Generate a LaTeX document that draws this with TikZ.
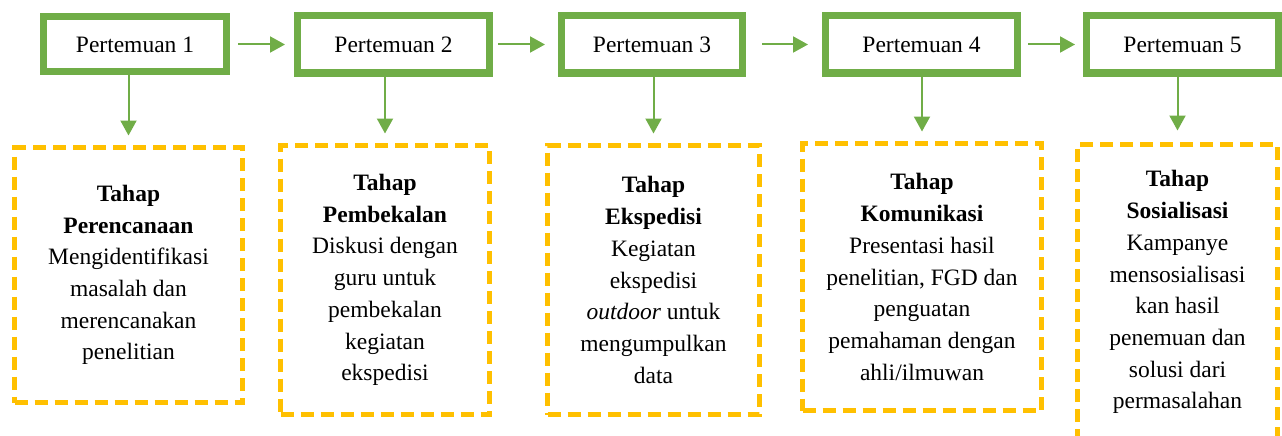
\documentclass[tikz,border=0pt]{standalone}
\usepackage{fontspec}
\setmainfont{Liberation Serif}
\usetikzlibrary{arrows.meta}
\definecolor{grn}{HTML}{70AD47}
\definecolor{org}{HTML}{FFC000}
\begin{document}
\begin{tikzpicture}[x=1pt,y=-1pt,
  meet/.style={draw=grn, line width=7pt, fill=white, minimum height=57pt, outer sep=0pt, inner sep=0pt, font=\fontsize{23.5}{31.7}\selectfont},
  stage/.style={draw=org, line width=5pt, dash pattern=on 13pt off 7pt, outer sep=0pt, inner sep=0pt, align=center, font=\fontsize{23.5}{31.7}\selectfont},
  flow/.style={draw=grn, line width=2pt, -{Triangle[width=16pt,length=15pt]}}]
\useasboundingbox (0,0) rectangle (1282,436);
\clip (0,0) rectangle (1282,436);

\node[meet, minimum width=183pt, minimum height=55pt] (b1) at (135,44.5) {Pertemuan 1};
\node[meet, minimum width=192pt] (b2) at (393.5,44.5) {Pertemuan 2};
\node[meet, minimum width=181pt] (b3) at (652,44.5) {Pertemuan 3};
\node[meet, minimum width=192pt] (b4) at (921.5,44.5) {Pertemuan 4};
\node[meet, minimum width=192pt] (b5) at (1182.5,44.5) {Pertemuan 5};

\node[stage, minimum width=228pt, minimum height=255pt] (s1) at (128.5,275)
  {\textbf{Tahap}\\\textbf{Perencanaan}\\Mengidentifikasi\\masalah dan\\merencanakan\\penelitian};
\node[stage, minimum width=209pt, minimum height=269pt] (s2) at (385,280)
  {\textbf{Tahap}\\\textbf{Pembekalan}\\Diskusi dengan\\guru untuk\\pembekalan\\kegiatan\\ekspedisi};
\node[stage, minimum width=212pt, minimum height=269pt] (s3) at (653.5,280)
  {\textbf{Tahap}\\\textbf{Ekspedisi}\\Kegiatan\\ekspedisi\\\textit{outdoor} untuk\\mengumpulkan\\data};
\node[stage, minimum width=239pt, minimum height=267pt] (s4) at (922,277)
  {\textbf{Tahap}\\\textbf{Komunikasi}\\Presentasi hasil\\penelitian, FGD dan\\penguatan\\pemahaman dengan\\ahli/ilmuwan};
\node[stage, minimum width=200pt, minimum height=295.5pt] (s5) at (1177.5,292.25)
  {\textbf{Tahap}\\\textbf{Sosialisasi}\\Kampanye\\mensosialisasi\\kan hasil\\penemuan dan\\solusi dari\\permasalahan};

\draw[flow, shorten <=11.5pt, shorten >=12.5pt] (b1) -- (b2);
\draw[flow, shorten <=8.8pt, shorten >=16.5pt] (b2) -- (b3);
\draw[flow, shorten <=19.5pt, shorten >=17.5pt] (b3) -- (b4);
\draw[flow, shorten <=10.5pt, shorten >=11.5pt] (b4) -- (b5);

\draw[flow, shorten >=12pt] (b1.south -| s1.north) -- (s1.north);
\draw[flow, shorten >=12pt] (b2.south -| s2.north) -- (s2.north);
\draw[flow, shorten >=12pt] (b3.south -| s3.north) -- (s3.north);
\draw[flow, shorten >=12pt] (b4.south -| s4.north) -- (s4.north);
\draw[flow, shorten >=14pt] (b5.south -| s5.north) -- (s5.north);
\end{tikzpicture}
\end{document}
